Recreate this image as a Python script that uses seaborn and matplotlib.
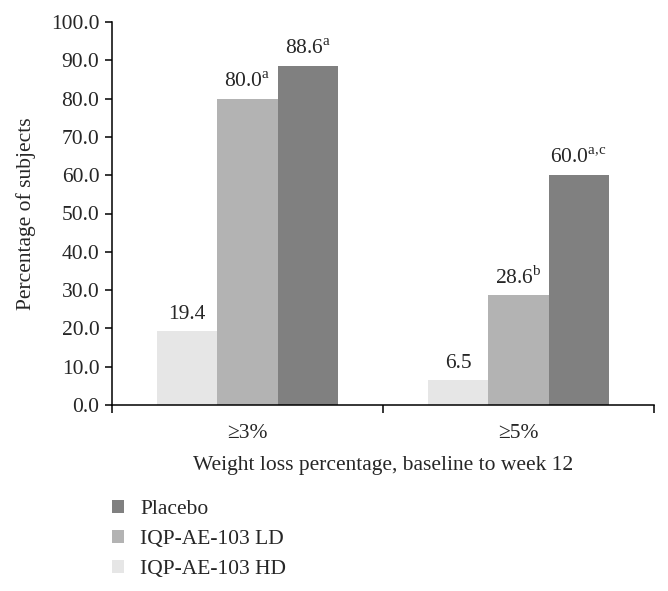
import matplotlib
matplotlib.use("Agg")
import matplotlib.pyplot as plt
import numpy as np
import pandas as pd
import seaborn as sns

# values
categories = ["≥3%", "≥5%"]
groups = ["IQP-AE-103 HD", "IQP-AE-103 LD", "Placebo"]
hd = [19.4, 6.5]
ld = [80.0, 28.6]
placebo = [88.6, 60.0]
hd_sup = ["", ""]
ld_sup = ["a", "b"]
placebo_sup = ["a", r"a,\!c"]
colours = ["#e6e6e6", "#b3b3b3", "#808080"]

sns.set_style("white")
plt.rcParams["font.family"] = ["Liberation Serif", "DejaVu Serif"]
plt.rcParams["mathtext.fontset"] = "custom"
plt.rcParams["mathtext.rm"] = "Liberation Serif"

rows = []
for g, vals in zip(groups, [hd, ld, placebo]):
    for c, v in zip(categories, vals):
        rows.append({"cat": c, "group": g, "value": v})
df = pd.DataFrame(rows)

fig = plt.figure(figsize=(6.68, 5.91), dpi=100)
ax = fig.add_axes([112 / 668, 1 - 405 / 591, 542 / 668, 383 / 591])

sns.barplot(data=df, x="cat", y="value", hue="group", hue_order=groups,
            palette=colours, width=0.667, gap=0, saturation=1, ax=ax,
            linewidth=0, edgecolor="none", errorbar=None)

fs = 15.5
for cont, vals, sups in zip(ax.containers, [hd, ld, placebo], [hd_sup, ld_sup, placebo_sup]):
    labs = []
    for v, s in zip(vals, sups):
        if s:
            labs.append(f"{v:.1f}" + r"$^{\rm " + s + "}$")
        else:
            labs.append(f"{v:.1f}")
    ax.bar_label(cont, labels=labs, padding=5, fontsize=fs)

ax.set_ylim(0, 100)
ax.set_xlim(-0.5, 1.5)
ax.set_yticks(np.arange(0, 101, 10))
ax.set_yticklabels([f"{t:.1f}" for t in np.arange(0, 101, 10)], fontsize=fs)
ax.set_xticks([0, 1])
ax.set_xticklabels(categories, fontsize=fs)
ax.set_xticks([-0.5, 0.5, 1.5], minor=True)
ax.tick_params(axis="x", which="major", bottom=True, length=0, pad=14)
ax.tick_params(axis="x", which="minor", bottom=True, length=6, width=1.1,
               direction="out", color="black")
ax.tick_params(axis="y", left=True, length=5, width=1.1, direction="out",
               color="black", pad=4)

for side in ["top", "right"]:
    ax.spines[side].set_visible(False)
for side in ["left", "bottom"]:
    ax.spines[side].set_color("black")
    ax.spines[side].set_linewidth(1.1)

ax.set_xlabel("Weight loss percentage, baseline to week 12", fontsize=fs, labelpad=9)
ax.set_ylabel("Percentage of subjects", fontsize=fs, labelpad=11)

handles, labels = ax.get_legend_handles_labels()
ax.legend(handles[::-1], labels[::-1], loc="upper left",
          bbox_to_anchor=(112 / 668, 1 - 500 / 591), bbox_transform=fig.transFigure,
          frameon=False, fontsize=fs, handlelength=0.55, handleheight=0.55,
          handletextpad=0.75, labelspacing=0.5, borderpad=0, borderaxespad=0)

fig.savefig("out.png", dpi=100)
